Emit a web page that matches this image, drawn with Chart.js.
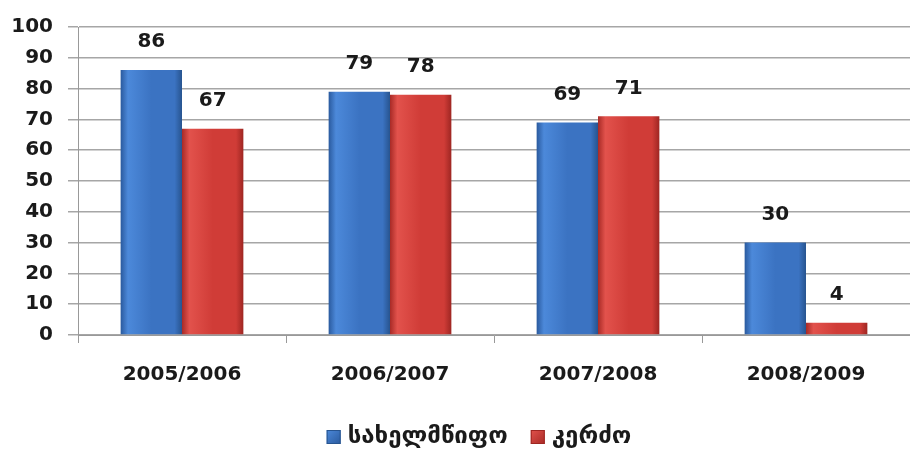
<!DOCTYPE html>
<html><head><meta charset="utf-8">
<script src="https://cdn.jsdelivr.net/npm/chart.js@4"></script>
<style>html,body{margin:0;padding:0;background:#fff}#wrap{width:910px;height:451px}</style>
</head><body><div id="wrap"><canvas id="c" width="910" height="451"></canvas></div>
<script>
const categories = ['2005/2006', '2006/2007', '2007/2008', '2008/2009'];
const seriesNames = ['სახელმწიფო', 'კერძო'];
const stateValues = [86, 79, 69, 30];
const privateValues = [67, 78, 71, 4];
const yTicks = [0, 10, 20, 30, 40, 50, 60, 70, 80, 90, 100];

const FONT = '"DejaVu Sans", Verdana, sans-serif';
const CAT_PCT = 0.59;
const palettes = [
  ['#2a5a9e', '#4c89da', '#3b73c2', '#27548f'],
  ['#a82a26', '#e2524c', '#d03c37', '#9e2622']
];

function barFill(context) {
  const chart = context.chart;
  const di = context.datasetIndex;
  const p = palettes[di];
  const xs = chart.scales && chart.scales.x;
  if (!xs || !chart.chartArea || context.dataIndex === undefined) return p[2];
  const center = xs.getPixelForValue(context.dataIndex);
  const bw = (xs.width / categories.length) * CAT_PCT / 2;
  const l = di === 0 ? center - bw : center;
  const r = l + bw;
  const g = chart.ctx.createLinearGradient(l, 0, r, 0);
  g.addColorStop(0, p[0]);
  g.addColorStop(0.12, p[1]);
  g.addColorStop(0.5, p[2]);
  g.addColorStop(0.88, p[2]);
  g.addColorStop(1, p[3]);
  return g;
}

const labelPlugin = {
  id: 'labels',
  afterDatasetsDraw(chart) {
    const ctx = chart.ctx;
    ctx.save();
    ctx.font = 'bold 20px ' + FONT;
    ctx.fillStyle = '#1a1a1a';
    ctx.textAlign = 'center';
    ctx.textBaseline = 'middle';
    chart.data.datasets.forEach((ds, di) => {
      const meta = chart.getDatasetMeta(di);
      meta.data.forEach((bar, i) => {
        ctx.fillText(String(ds.data[i]), bar.x, bar.y - 28);
      });
    });
    ctx.restore();
  },
  afterDraw(chart) {
    const ctx = chart.ctx;
    ctx.save();
    ctx.font = 'bold 24px ' + FONT;
    const box = 14, gapBox = 7, gapItem = 23;
    const widths = seriesNames.map(n => ctx.measureText(n).width);
    const total = widths.reduce((a, w) => a + box + gapBox + w, 0) + gapItem * (seriesNames.length - 1);
    let x = 479 - total / 2;
    const y = 437;
    seriesNames.forEach((n, i) => {
      const p = palettes[i];
      const g = ctx.createLinearGradient(x, y - box / 2, x + box, y + box / 2);
      g.addColorStop(0, p[1]);
      g.addColorStop(1, p[0]);
      ctx.fillStyle = g;
      ctx.fillRect(x, y - box / 2, box, box);
      ctx.strokeStyle = p[3];
      ctx.lineWidth = 1;
      ctx.strokeRect(x + 0.5, y - box / 2 + 0.5, box - 1, box - 1);
      x += box + gapBox;
      ctx.fillStyle = '#1a1a1a';
      ctx.textAlign = 'left';
      ctx.textBaseline = 'middle';
      ctx.fillText(n, x, y);
      x += widths[i] + gapItem;
    });
    ctx.restore();
  }
};

new Chart(document.getElementById('c'), {
  type: 'bar',
  data: {
    labels: categories,
    datasets: [
      { label: seriesNames[0], data: stateValues, backgroundColor: barFill, borderWidth: 0 },
      { label: seriesNames[1], data: privateValues, backgroundColor: barFill, borderWidth: 0 }
    ]
  },
  options: {
    responsive: false,
    animation: false,
    devicePixelRatio: 1,
    layout: { padding: { top: 17, right: 0, bottom: 0, left: 0 } },
    datasets: { bar: { categoryPercentage: CAT_PCT, barPercentage: 1 } },
    plugins: {
      tooltip: { enabled: false },
      legend: { display: false }
    },
    scales: {
      x: {
        afterFit(s) { s.height = 116; },
        grid: { drawOnChartArea: false, drawTicks: true, tickLength: 8, color: '#999', offset: true },
        border: { display: true, color: '#999' },
        ticks: { padding: 20, color: '#1a1a1a', font: { family: FONT, size: 20, weight: 'bold' } }
      },
      y: {
        min: 0, max: 100,
        afterFit(s) { s.width = 78; },
        afterBuildTicks(s) { s.ticks = yTicks.map(v => ({ value: v })); },
        grid: { color: '#a6a6a6', lineWidth: 1.5, tickLength: 10 },
        border: { display: true, color: '#999' },
        ticks: { padding: 15, color: '#1a1a1a', font: { family: FONT, size: 20, weight: 'bold' } }
      }
    }
  },
  plugins: [labelPlugin]
});
</script></body></html>
